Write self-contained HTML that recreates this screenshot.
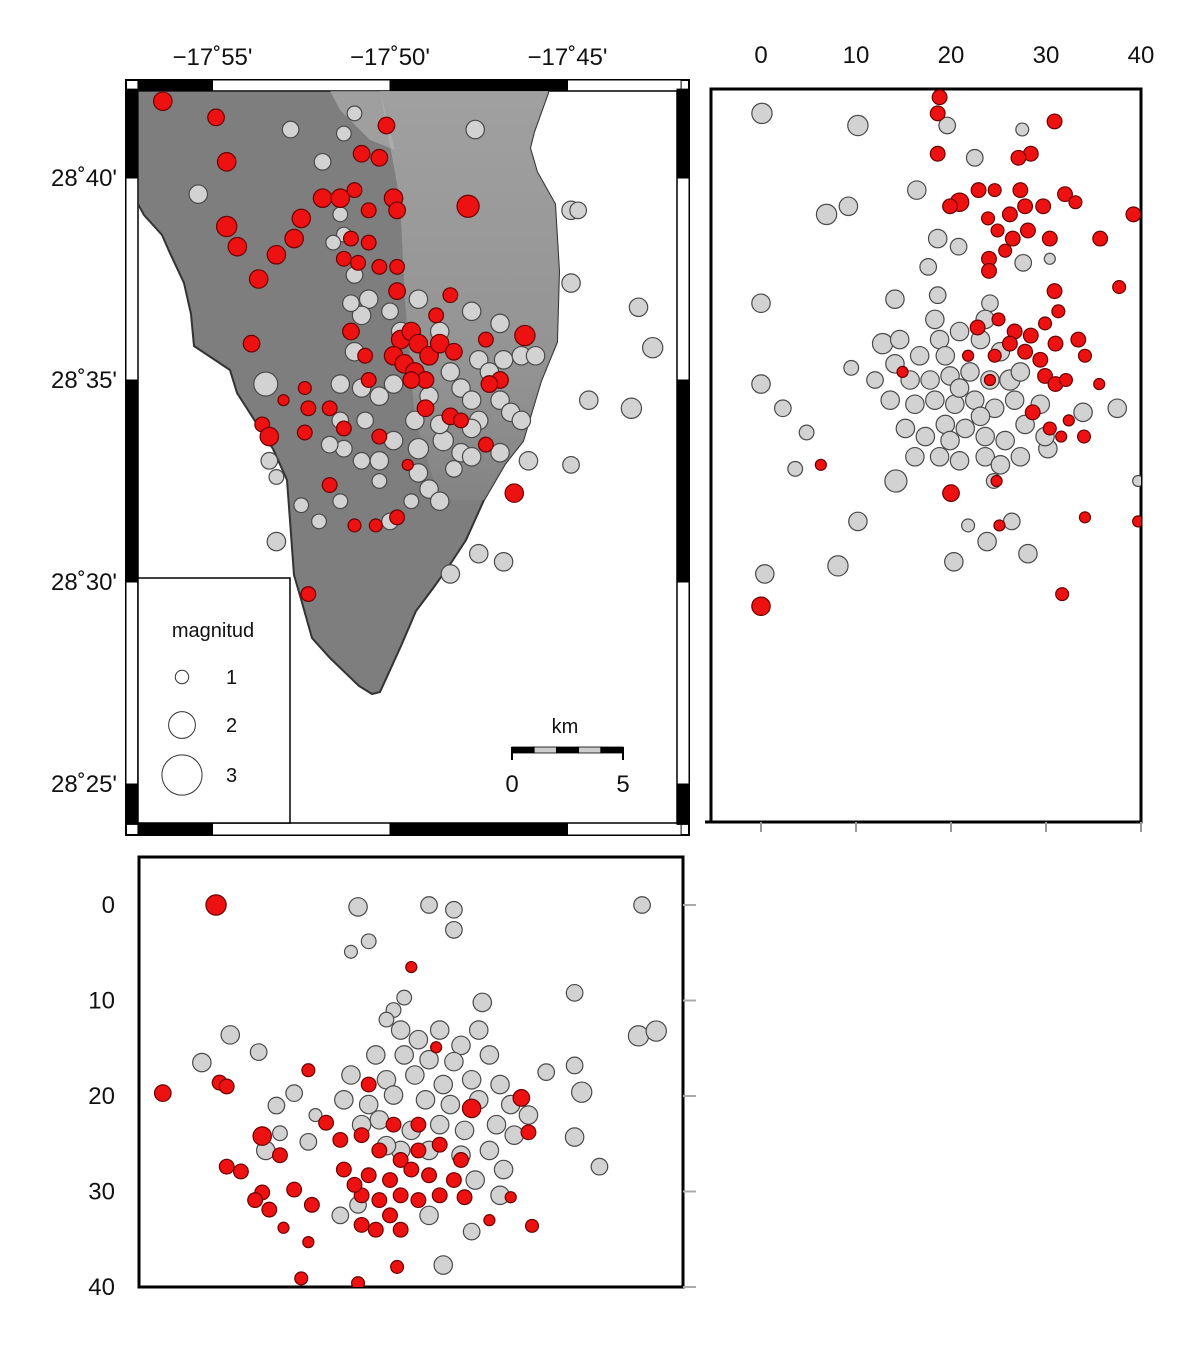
<!DOCTYPE html>
<html><head><meta charset="utf-8"><style>
html,body{margin:0;padding:0;background:#fff;width:1200px;height:1359px;overflow:hidden}
svg{display:block}
text{font-family:"Liberation Sans",sans-serif;fill:#111}
</style></head><body>
<svg id="fig" width="1200" height="1359" viewBox="0 0 1200 1359" xmlns="http://www.w3.org/2000/svg">
<defs>
<clipPath id="mapClip"><rect x="138" y="91" width="539" height="732"/></clipPath>
<clipPath id="rClip"><rect x="710" y="88" width="431" height="734"/></clipPath>
<clipPath id="bClip"><rect x="138" y="856" width="545" height="431"/></clipPath>
<linearGradient id="ridge" x1="0" y1="0" x2="0" y2="1"><stop offset="0" stop-color="#a4a4a4"/><stop offset="0.7" stop-color="#959595"/><stop offset="1" stop-color="#848484"/></linearGradient>
</defs>
<g id="mapFrame"></g>
<g id="island" clip-path="url(#mapClip)"></g>
<g id="mapPts" clip-path="url(#mapClip)"></g>
<g id="legend"></g>
<g id="scale"></g>
<g id="rPanel"></g>
<g id="rPts" clip-path="url(#rClip)"></g>
<g id="bPanel"></g>
<g id="bPts" clip-path="url(#bClip)"></g>
</svg>
<script>
// ---- data: map view [minutes west of 17°, minutes north of 28°, magnitude]
const mapGray = [[52.8,41.2,0.9],[51.9,40.4,0.9],[51.3,41.1,0.8],[51.0,41.6,0.8],[47.6,41.2,1.0],[55.4,39.6,1.0],[44.9,39.2,1.0],[44.7,39.2,0.9],[51.3,38.6,0.8],[51.4,39.1,0.8],[51.6,38.4,0.8],[51.0,37.6,0.9],[50.6,37.0,1.0],[44.9,37.4,1.0],[43.0,36.8,1.0],[42.6,35.8,1.1],[44.4,34.5,1.0],[43.2,34.3,1.1],[46.1,33.0,1.0],[44.9,32.9,0.9],[48.3,30.2,1.0],[47.5,30.7,1.0],[46.8,30.5,1.0],[53.2,31.0,1.0],[53.5,34.9,1.3],[51.4,34.9,1.0],[51.0,35.7,1.0],[50.3,34.6,1.0],[50.8,36.6,1.0],[48.6,36.2,1.0],[47.7,36.7,1.0],[46.9,36.4,1.0],[46.8,35.5,1.0],[46.3,35.6,1.0],[45.9,35.6,1.0],[48.0,34.8,1.0],[47.7,34.5,1.0],[46.9,34.5,1.0],[46.6,34.2,1.0],[46.3,34.0,1.0],[47.5,34.0,1.0],[48.5,33.5,1.1],[48.0,33.2,1.0],[49.2,33.3,1.1],[49.9,33.5,1.0],[50.3,33.0,1.0],[50.8,33.0,0.9],[51.3,33.3,0.9],[51.7,33.4,0.9],[51.4,34.0,0.9],[50.7,34.0,0.9],[46.9,33.2,1.0],[47.7,33.1,1.0],[49.2,32.7,1.0],[48.9,32.3,1.0],[48.6,32.0,1.0],[53.4,33.0,0.9],[53.2,32.6,0.8],[50.0,31.5,0.9],[51.4,32.0,0.8],[52.5,31.9,0.8],[52.0,31.5,0.8],[49.7,36.2,1.0],[49.2,37.0,1.0],[50.0,36.7,0.9],[48.3,35.2,1.0],[49.3,34.0,1.0],[47.5,35.5,1.0],[47.2,35.2,1.0],[50.8,34.8,1.0],[51.1,36.9,0.9],[49.9,34.9,1.0],[48.9,34.6,1.0],[48.6,33.9,1.0],[47.7,33.8,1.0],[48.2,32.8,0.9],[49.4,32.0,0.8],[50.3,32.5,0.8]];
const mapRed = [[56.4,41.9,1.0],[54.9,41.5,0.9],[54.6,40.4,1.0],[50.1,41.3,0.9],[50.8,40.6,0.9],[50.3,40.5,0.9],[54.6,38.8,1.1],[54.3,38.3,1.0],[52.5,39.0,1.0],[51.9,39.5,1.0],[51.4,39.5,1.0],[51.0,39.7,0.8],[50.6,39.2,0.8],[49.9,39.5,1.0],[49.8,39.2,0.9],[47.8,39.3,1.2],[53.7,37.5,1.0],[53.2,38.1,1.0],[52.7,38.5,1.0],[51.1,38.5,0.8],[50.6,38.4,0.8],[51.3,38.0,0.8],[50.9,37.9,0.8],[50.3,37.8,0.8],[49.8,37.8,0.8],[49.8,37.2,0.9],[48.3,37.1,0.8],[48.7,36.6,0.8],[51.1,36.2,0.9],[53.9,35.9,0.9],[46.2,36.1,1.1],[49.7,36.0,1.0],[49.4,36.2,1.0],[49.2,35.9,1.0],[49.9,35.6,1.0],[49.6,35.4,1.0],[49.3,35.2,1.0],[48.9,35.6,1.0],[48.6,35.9,1.0],[49.0,35.0,0.9],[48.2,35.7,0.9],[47.3,36.0,0.8],[46.9,35.0,0.9],[47.2,34.9,0.9],[49.4,35.0,0.9],[50.7,35.6,0.8],[50.6,35.0,0.8],[52.4,34.8,0.7],[51.7,34.3,0.8],[52.3,34.3,0.8],[53.0,34.5,0.6],[53.6,33.9,0.8],[53.4,33.6,1.0],[52.4,33.7,0.8],[51.3,33.8,0.8],[50.3,33.6,0.8],[49.0,34.3,0.9],[48.3,34.1,0.9],[48.0,34.0,0.8],[47.3,33.4,0.8],[49.5,32.9,0.6],[51.7,32.4,0.8],[51.0,31.4,0.7],[50.4,31.4,0.7],[49.8,31.6,0.8],[46.5,32.2,1.0],[52.3,29.7,0.8]];
// ---- data: depth-latitude section [depth km, minutes north of 28°, magnitude]
const secRGray = [[0.1,41.6,1.1],[10.2,41.3,1.1],[19.6,41.3,0.9],[27.5,41.2,0.7],[22.5,40.5,0.9],[16.4,39.7,1.0],[6.9,39.1,1.1],[9.2,39.3,1.0],[18.6,38.5,1.0],[20.8,38.3,0.9],[17.6,37.8,0.9],[0,36.9,1.0],[14.1,37.0,1.0],[18.6,37.1,0.9],[24.1,36.9,0.9],[12.8,35.9,1.1],[9.5,35.3,0.8],[0,34.9,1.0],[2.3,34.3,0.9],[4.8,33.7,0.8],[3.6,32.8,0.8],[14.2,32.5,1.2],[10.2,31.5,1.0],[8.1,30.4,1.1],[0.4,30.2,1.0],[20.3,30.5,1.0],[23.8,31.0,1.0],[26.4,31.5,0.9],[28.1,30.7,1.0],[37.5,34.3,1.0],[39.7,32.5,0.6],[30.2,33.3,1.0],[33.9,34.2,1.0],[21.8,31.4,0.7],[24.5,32.5,0.8],[27.6,37.9,0.9],[30.4,38.0,0.6],[26.2,35.0,1.1],[14.6,36.0,1.0],[16.7,35.6,1.0],[18.8,36.0,1.0],[20.9,36.2,1.0],[23.1,36.0,1.0],[25.2,35.7,1.0],[15.7,35.0,1.0],[17.8,35.0,1.0],[19.9,35.1,1.0],[22.0,35.2,1.0],[24.1,35.0,1.0],[27.3,35.2,1.0],[13.6,34.5,1.0],[16.2,34.4,1.0],[18.3,34.5,1.0],[20.4,34.4,1.0],[22.5,34.5,1.0],[24.6,34.3,1.0],[26.7,34.5,1.0],[15.2,33.8,1.0],[17.3,33.6,1.0],[19.4,33.9,1.0],[21.5,33.8,1.0],[23.6,33.6,1.0],[25.7,33.5,1.0],[27.8,33.9,1.0],[16.2,33.1,1.0],[18.8,33.1,1.0],[20.9,33.0,1.0],[23.6,33.1,1.0],[27.3,33.1,1.0],[14.1,35.4,1.0],[19.4,35.6,1.0],[20.9,34.8,1.0],[23.1,34.1,1.0],[19.9,33.5,1.0],[25.2,32.9,1.0],[12.0,35.0,0.9],[18.3,36.5,1.0],[23.6,36.5,1.0],[29.4,34.4,1.0],[29.9,33.6,1.0]];
const secRRed = [[18.8,42.0,0.8],[18.6,41.6,0.8],[30.9,41.4,0.8],[28.4,40.6,0.8],[27.1,40.5,0.8],[18.6,40.6,0.8],[20.9,39.4,1.0],[19.9,39.3,0.8],[22.9,39.7,0.8],[24.6,39.7,0.7],[27.3,39.7,0.8],[32.0,39.6,0.8],[33.1,39.4,0.7],[39.2,39.1,0.8],[29.7,39.3,0.8],[23.9,39.0,0.7],[26.2,39.1,0.8],[27.8,39.3,0.8],[24.9,38.7,0.7],[26.5,38.5,0.8],[28.1,38.7,0.8],[30.4,38.5,0.8],[35.7,38.5,0.8],[24.0,38.0,0.8],[25.7,38.2,0.7],[24.0,37.7,0.8],[30.9,37.2,0.8],[37.7,37.3,0.7],[22.8,36.3,0.8],[25.0,36.5,0.7],[26.7,36.2,0.8],[28.4,36.1,0.8],[29.9,36.4,0.7],[31.3,36.7,0.7],[26.2,35.9,0.8],[27.8,35.7,0.8],[29.4,35.5,0.8],[31.0,35.9,0.8],[33.4,36.0,0.8],[34.1,35.6,0.7],[29.9,35.1,0.8],[31.0,34.9,0.8],[32.1,35.0,0.7],[35.6,34.9,0.6],[24.6,35.6,0.7],[21.8,35.6,0.6],[24.1,35.0,0.6],[28.6,34.2,0.8],[30.4,33.8,0.7],[32.4,34.0,0.6],[31.6,33.6,0.6],[34.0,33.6,0.7],[14.9,35.2,0.6],[24.8,32.5,0.6],[20.0,32.2,0.9],[25.1,31.4,0.6],[34.1,31.6,0.6],[39.7,31.5,0.6],[31.7,29.7,0.7],[6.3,32.9,0.6],[0,29.4,1.0]];
// ---- data: longitude-depth section [minutes west of 17°, depth km, magnitude]
const secBGray = [[50.9,0.2,1.0],[48.9,0,0.9],[48.2,0.5,0.9],[48.2,2.6,0.9],[42.9,0,0.9],[50.6,3.8,0.8],[51.1,4.9,0.7],[44.8,9.2,0.9],[47.4,10.2,1.0],[49.6,9.7,0.8],[49.9,11.0,0.8],[50.1,12.0,0.8],[43.0,13.7,1.1],[42.5,13.2,1.1],[54.5,13.6,1.0],[53.7,15.4,0.9],[55.3,16.5,1.0],[44.8,16.8,0.9],[45.6,17.5,0.9],[44.6,19.6,1.1],[44.1,27.4,0.9],[44.8,24.3,1.0],[52.7,19.7,0.9],[53.2,21.0,0.9],[53.5,25.7,1.0],[53.1,23.9,0.8],[48.5,37.7,1.0],[47.7,34.2,0.9],[52.1,22.0,0.7],[49.7,13.1,1.0],[49.2,14.1,1.0],[48.6,13.1,1.0],[48.0,14.7,1.0],[47.5,13.1,1.0],[50.4,15.7,1.0],[49.6,15.7,1.0],[48.9,16.2,1.0],[48.2,16.4,1.0],[47.2,15.7,1.0],[51.1,17.8,1.0],[50.1,18.3,1.0],[49.3,17.8,1.0],[48.5,18.8,1.0],[47.7,18.3,1.0],[46.9,18.8,1.0],[51.3,20.4,1.0],[50.6,20.9,1.0],[49.9,19.9,1.0],[49.0,20.4,1.0],[48.3,20.9,1.0],[47.5,20.4,1.0],[46.6,20.9,1.0],[46.1,22.0,1.0],[50.8,23.0,1.0],[50.3,22.5,1.0],[49.4,23.6,1.0],[48.6,23.0,1.0],[47.9,23.6,1.0],[47.0,23.0,1.0],[46.5,24.1,1.0],[49.7,25.7,1.0],[48.9,25.7,1.0],[48.0,26.2,1.0],[47.2,25.7,1.0],[46.8,27.7,1.0],[47.6,28.8,1.0],[46.9,30.4,1.0],[48.9,32.5,1.0],[50.9,31.4,0.9],[51.4,32.5,0.9],[52.3,24.8,0.9],[50.1,25.2,1.0]];
const secBRed = [[54.9,0,1.1],[49.4,6.5,0.6],[56.4,19.7,0.9],[54.8,18.6,0.8],[54.6,19.0,0.8],[52.3,17.3,0.7],[50.6,18.8,0.8],[48.7,14.9,0.6],[47.7,21.3,1.0],[46.3,20.2,0.9],[46.1,23.8,0.8],[53.6,24.2,1.0],[53.1,26.2,0.8],[54.6,27.4,0.8],[54.2,27.9,0.8],[53.6,30.1,0.8],[53.8,30.9,0.8],[53.4,31.9,0.8],[52.7,29.8,0.8],[52.2,31.4,0.8],[53.0,33.8,0.6],[52.3,35.3,0.6],[52.5,39.1,0.7],[50.9,39.6,0.7],[49.8,37.9,0.7],[46.0,33.6,0.7],[47.2,33.0,0.6],[46.6,30.6,0.6],[51.8,22.8,0.8],[51.4,24.6,0.8],[50.8,24.1,0.8],[50.3,25.7,0.8],[49.7,26.7,0.8],[49.2,25.7,0.8],[48.6,25.1,0.8],[48.0,26.7,0.8],[51.3,27.7,0.8],[50.6,28.3,0.8],[50.0,28.8,0.8],[49.4,27.7,0.8],[48.9,28.3,0.8],[48.2,28.8,0.8],[50.8,30.4,0.8],[50.3,30.9,0.8],[49.7,30.4,0.8],[49.2,30.9,0.8],[48.6,30.4,0.8],[47.9,30.6,0.8],[50.0,32.5,0.8],[49.7,34.0,0.8],[50.4,34.0,0.8],[50.8,33.5,0.8],[51.0,29.3,0.8],[49.2,23.0,0.8],[49.9,23.0,0.8]];
const lonTicks = ["−17˚55'","−17˚50'","−17˚45'"];
const lonTickVals = [55,50,45];
const latTicks = ["28˚40'","28˚35'","28˚30'","28˚25'"];
const latTickVals = [40,35,30,25];
const depthTicks = [0,10,20,30,40];
const legendMags = [1,2,3];

// ---- axis functions
const mx = w => 390 + (50 - w) * 35.5;
const my = m => 380 - (m - 35) * 40.4;
const rx = d => 761 + d * 9.5;
const by = d => 905 + d * 9.55;
const rad = mag => 9.2 * mag;
const legRad = mag => 6.7 * mag;

const NS = 'http://www.w3.org/2000/svg';
function mk(tag, attrs, parent) {
  const el = document.createElementNS(NS, tag);
  for (const k in attrs) el.setAttribute(k, attrs[k]);
  parent.appendChild(el);
  return el;
}
const $ = id => document.getElementById(id);

// ---- map frame
const mf = $('mapFrame');
let e = mk('rect', {x:126, y:80, width:563, height:755, fill:'#fff', stroke:'#000', 'stroke-width':2}, mf);


const lonEdges = [57.1, 55, 50, 45, 41.8];
lonEdges.slice(0, -1).forEach((w0, i) => {
  const x0 = mx(w0), x1 = mx(lonEdges[i + 1]);
  const fill = i % 2 === 0 ? '#000' : '#fff';
  [80, 823].forEach(yy => {
    const s = mk('rect', {x:x0, y:yy, width:x1 - x0, height:12, fill:fill, stroke:'#000', 'stroke-width':1}, mf);
    
    
  });
});
const latEdges = [42.2, 40, 35, 30, 25, 24.0];
latEdges.slice(0, -1).forEach((m0, i) => {
  const y0 = my(m0), y1 = my(latEdges[i + 1]);
  const fill = i % 2 === 0 ? '#000' : '#fff';
  [126, 677].forEach(xx => {
    const s = mk('rect', {x:xx, y:y0, width:12, height:y1 - y0, fill:fill, stroke:'#000', 'stroke-width':1}, mf);
    
    
  });
});
e = mk('rect', {x:138, y:91, width:539, height:732, fill:'#fff', stroke:'#000', 'stroke-width':1.5}, mf);


lonTicks.forEach((t, i) => {
  const tx = mk('text', {x:mx(lonTickVals[i]), y:65, 'font-size':24, 'text-anchor':'middle'}, mf);
  tx.textContent = t;
  
  
});
latTicks.forEach((t, i) => {
  const tx = mk('text', {x:117, y:my(latTickVals[i]) + 8, 'font-size':24, 'text-anchor':'end'}, mf);
  tx.textContent = t;
  
  
});

// ---- island
const isl = $('island');
const coast = "138,91 548,91 548,93 534,132 530,148 537,172 555,204 559,271 557,342 541,381 523,441 505,464 484,500 466,540 451,563 434,587 416,611 401,646 380,692 372,694 359,686 330,658 312,638 301,599 294,575 287,480 273,449 255,421 237,393 230,370 194,346 191,314 184,283 169,251 162,235 144,215 138,204";
e = mk('polygon', {points:coast, fill:'#7e7e7e', stroke:'#333', 'stroke-width':2}, isl);


e = mk('polygon', {points:"380,91 548,91 548,93 534,132 530,148 537,172 555,204 559,271 557,342 541,381 523,441 505,464 484,500 440,500 415,420 405,300 400,200", fill:'url(#ridge)', opacity:0.9}, isl);


e = mk('polygon', {points:"330,91 380,91 395,150 370,140 340,110", fill:'#b5b5b5', opacity:0.6}, isl);



// ---- event drawing
function drawEvents(group, arr, fx, fy, red) {
  arr.forEach(ev => {
    const c = mk('circle', {cx:fx(ev), cy:fy(ev), r:rad(ev[2]),
      fill: red ? '#ee1111' : '#d2d2d2', stroke: red ? '#6a0000' : '#4a4a4a', 'stroke-width':1.2}, group);
    
    
  });
}
drawEvents($('mapPts'), mapGray, ev => mx(ev[0]), ev => my(ev[1]), false);
drawEvents($('mapPts'), mapRed, ev => mx(ev[0]), ev => my(ev[1]), true);

// ---- legend
const lg = $('legend');
e = mk('rect', {x:138, y:578, width:152, height:245, fill:'#fff', stroke:'#000', 'stroke-width':1.5}, lg);


e = mk('text', {x:213, y:637, 'font-size':20, 'text-anchor':'middle'}, lg);
e.textContent = 'magnitud';


const legY = [677, 725, 775];
legendMags.forEach((mg, i) => {
  const c = mk('circle', {cx:182, cy:legY[i], r:legRad(mg), fill:'none', stroke:'#333', 'stroke-width':1}, lg);
  
  
  const t = mk('text', {x:226, y:legY[i] + 7, 'font-size':20}, lg);
  t.textContent = String(mg);
  
  
});

// ---- scale bar
const sc = $('scale');
e = mk('text', {x:565, y:733, 'font-size':20, 'text-anchor':'middle'}, sc);
e.textContent = 'km';


for (let i = 0; i < 5; i++) {
  const s = mk('rect', {x:512 + i * 22.2, y:747, width:22.2, height:6, fill: i % 2 === 0 ? '#000' : '#ccc', stroke:'#000', 'stroke-width':0.8}, sc);
  
  
}
[512, 623].forEach(xx => { const l = mk('line', {x1:xx, y1:747, x2:xx, y2:760, stroke:'#000', 'stroke-width':2}, sc);   });
[['0',512],['5',623]].forEach(p => { const t = mk('text', {x:p[1], y:792, 'font-size':24, 'text-anchor':'middle'}, sc); t.textContent = p[0];   });

// ---- right section panel
const rp = $('rPanel');
e = mk('rect', {x:711, y:89, width:430, height:733, fill:'#fff', stroke:'#000', 'stroke-width':3}, rp);


depthTicks.forEach(d => {
  const t = mk('text', {x:rx(d), y:63, 'font-size':24, 'text-anchor':'middle'}, rp);
  t.textContent = String(d);
  
  
  const l = mk('line', {x1:rx(d), y1:822, x2:rx(d), y2:832, stroke:'#999', 'stroke-width':2}, rp);
  
  
});
e = mk('line', {x1:705, y1:822, x2:711, y2:822, stroke:'#000', 'stroke-width':3}, rp);


drawEvents($('rPts'), secRGray, ev => rx(ev[0]), ev => my(ev[1]), false);
drawEvents($('rPts'), secRRed, ev => rx(ev[0]), ev => my(ev[1]), true);

// ---- bottom section panel
const bp = $('bPanel');
e = mk('rect', {x:139, y:857, width:544, height:430, fill:'#fff', stroke:'#000', 'stroke-width':3}, bp);


depthTicks.forEach(d => {
  const t = mk('text', {x:115, y:by(d) + 8, 'font-size':24, 'text-anchor':'end'}, bp);
  t.textContent = String(d);
  
  
  const l = mk('line', {x1:683, y1:by(d), x2:696, y2:by(d), stroke:'#aaa', 'stroke-width':2}, bp);
  
  
});
drawEvents($('bPts'), secBGray, ev => mx(ev[0]), ev => by(ev[1]), false);
drawEvents($('bPts'), secBRed, ev => mx(ev[0]), ev => by(ev[1]), true);
</script>
</body></html>
